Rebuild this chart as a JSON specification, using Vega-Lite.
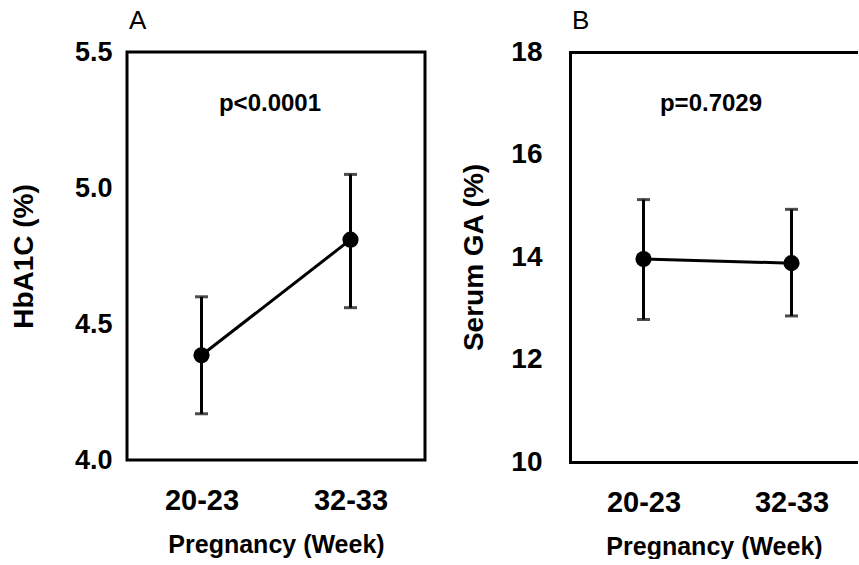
{
  "$schema": "https://vega.github.io/schema/vega-lite/v6.json",
  "padding": {"left": 8, "top": 6, "right": 0, "bottom": 0},
  "background": "white",
  "bounds": "flush",
  "spacing": 145,
  "config": {
    "font": "Liberation Sans",
    "view": {"stroke": null},
    "axis": {"grid": false, "ticks": false, "labelColor": "black", "titleColor": "black", "labelFont": "Liberation Sans", "titleFont": "Liberation Sans", "labelFontWeight": "bold", "titleFontWeight": "bold"},
    "title": {"font": "Liberation Sans", "fontWeight": "normal", "color": "black"}
  },
  "datasets": {
    "stats": [
      {"panel": "A", "period": "20-23", "mean": 4.385, "lo": 4.17, "hi": 4.60},
      {"panel": "A", "period": "32-33", "mean": 4.81, "lo": 4.56, "hi": 5.05},
      {"panel": "B", "period": "20-23", "mean": 13.96, "lo": 12.78, "hi": 15.12},
      {"panel": "B", "period": "32-33", "mean": 13.88, "lo": 12.85, "hi": 14.93}
    ],
    "pvals": [
      {"panel": "A", "label": "p<0.0001", "y": 5.31},
      {"panel": "B", "label": "p=0.7029", "y": 16.98}
    ]
  },
  "hconcat": [
    {
      "width": 298,
      "height": 408,
      "view": {"stroke": "black", "strokeWidth": 3},
      "title": {"text": "A", "anchor": "start", "frame": "group", "fontSize": 26, "offset": 4, "dx": 2},
      "layer": [
        {
          "data": {"name": "stats"},
          "transform": [{"filter": "datum.panel == 'A'"}],
          "mark": {"type": "rule", "strokeWidth": 3, "color": "black"},
          "encoding": {
            "x": {"field": "period", "type": "ordinal", "sort": null, "scale": {"type": "point", "padding": 0.5},
                  "axis": {"title": "Pregnancy (Week)", "labelAngle": 0, "domain": false, "labelFontSize": 29, "labelPadding": 26, "titleFontSize": 25, "titlePadding": 17}},
            "y": {"field": "lo", "type": "quantitative", "scale": {"domain": [4, 5.5], "nice": false, "zero": false},
                  "axis": {"title": "HbA1C (%)", "values": [4, 4.5, 5, 5.5], "format": ".1f", "domain": false, "labelFontSize": 27, "labelPadding": 15, "titleFontSize": 28, "titlePadding": 36}},
            "y2": {"field": "hi"}
          }
        },
        {
          "data": {"name": "stats"},
          "transform": [{"filter": "datum.panel == 'A'"}],
          "mark": {"type": "tick", "orient": "horizontal", "size": 13, "thickness": 3, "color": "black"},
          "encoding": {"x": {"field": "period", "type": "ordinal", "sort": null}, "y": {"field": "lo", "type": "quantitative"}}
        },
        {
          "data": {"name": "stats"},
          "transform": [{"filter": "datum.panel == 'A'"}],
          "mark": {"type": "tick", "orient": "horizontal", "size": 13, "thickness": 3, "color": "black"},
          "encoding": {"x": {"field": "period", "type": "ordinal", "sort": null}, "y": {"field": "hi", "type": "quantitative"}}
        },
        {
          "data": {"name": "stats"},
          "transform": [{"filter": "datum.panel == 'A'"}],
          "mark": {"type": "line", "strokeWidth": 3, "color": "black"},
          "encoding": {"x": {"field": "period", "type": "ordinal", "sort": null}, "y": {"field": "mean", "type": "quantitative"}}
        },
        {
          "data": {"name": "stats"},
          "transform": [{"filter": "datum.panel == 'A'"}],
          "mark": {"type": "point", "filled": true, "size": 260, "color": "black", "opacity": 1},
          "encoding": {"x": {"field": "period", "type": "ordinal", "sort": null}, "y": {"field": "mean", "type": "quantitative"}}
        },
        {
          "data": {"name": "pvals"},
          "transform": [{"filter": "datum.panel == 'A'"}],
          "mark": {"type": "text", "fontSize": 24, "fontWeight": "bold", "color": "black", "baseline": "middle", "dx": -6},
          "encoding": {"y": {"field": "y", "type": "quantitative"}, "text": {"field": "label"}}
        }
      ]
    },
    {
      "width": 288,
      "height": 410,
      "title": {"text": "B", "anchor": "start", "frame": "group", "fontSize": 26, "offset": 4, "dx": 2},
      "resolve": {"axis": {"x": "independent"}},
      "layer": [
        {
          "data": {"name": "stats"},
          "transform": [{"filter": "datum.panel == 'B'"}],
          "mark": {"type": "rule", "strokeWidth": 3, "color": "black"},
          "encoding": {
            "x": {"field": "period", "type": "ordinal", "sort": null, "scale": {"type": "point", "padding": 0.473, "align": 0.525},
                  "axis": {"title": "Pregnancy (Week)", "orient": "bottom", "labelAngle": 0, "domain": true, "domainColor": "black", "domainWidth": 3, "domainCap": "square", "labelFontSize": 29, "labelPadding": 26, "titleFontSize": 25, "titlePadding": 17}},
            "y": {"field": "lo", "type": "quantitative", "scale": {"domain": [10, 18], "nice": false, "zero": false},
                  "axis": {"title": "Serum GA (%)", "values": [10, 12, 14, 16, 18], "domain": true, "domainColor": "black", "domainWidth": 3, "domainCap": "square", "labelFontSize": 28, "labelPadding": 28, "titleFontSize": 28, "titlePadding": 22}},
            "y2": {"field": "hi"}
          }
        },
        {
          "data": {"name": "stats"},
          "transform": [{"filter": "datum.panel == 'B'"}],
          "mark": {"type": "tick", "orient": "horizontal", "size": 13, "thickness": 3, "color": "black"},
          "encoding": {"x": {"field": "period", "type": "ordinal", "sort": null, "axis": {"orient": "top", "title": null, "labels": false, "domain": true, "domainColor": "black", "domainWidth": 3, "domainCap": "square"}}, "y": {"field": "lo", "type": "quantitative"}}
        },
        {
          "data": {"name": "stats"},
          "transform": [{"filter": "datum.panel == 'B'"}],
          "mark": {"type": "tick", "orient": "horizontal", "size": 13, "thickness": 3, "color": "black"},
          "encoding": {"x": {"field": "period", "type": "ordinal", "sort": null, "axis": null}, "y": {"field": "hi", "type": "quantitative"}}
        },
        {
          "data": {"name": "stats"},
          "transform": [{"filter": "datum.panel == 'B'"}],
          "mark": {"type": "line", "strokeWidth": 3, "color": "black"},
          "encoding": {"x": {"field": "period", "type": "ordinal", "sort": null, "axis": null}, "y": {"field": "mean", "type": "quantitative"}}
        },
        {
          "data": {"name": "stats"},
          "transform": [{"filter": "datum.panel == 'B'"}],
          "mark": {"type": "point", "filled": true, "size": 260, "color": "black", "opacity": 1},
          "encoding": {"x": {"field": "period", "type": "ordinal", "sort": null, "axis": null}, "y": {"field": "mean", "type": "quantitative"}}
        },
        {
          "data": {"name": "pvals"},
          "transform": [{"filter": "datum.panel == 'B'"}],
          "mark": {"type": "text", "fontSize": 24, "fontWeight": "bold", "color": "black", "baseline": "middle", "dx": -3},
          "encoding": {"y": {"field": "y", "type": "quantitative"}, "text": {"field": "label"}}
        }
      ]
    }
  ]
}
